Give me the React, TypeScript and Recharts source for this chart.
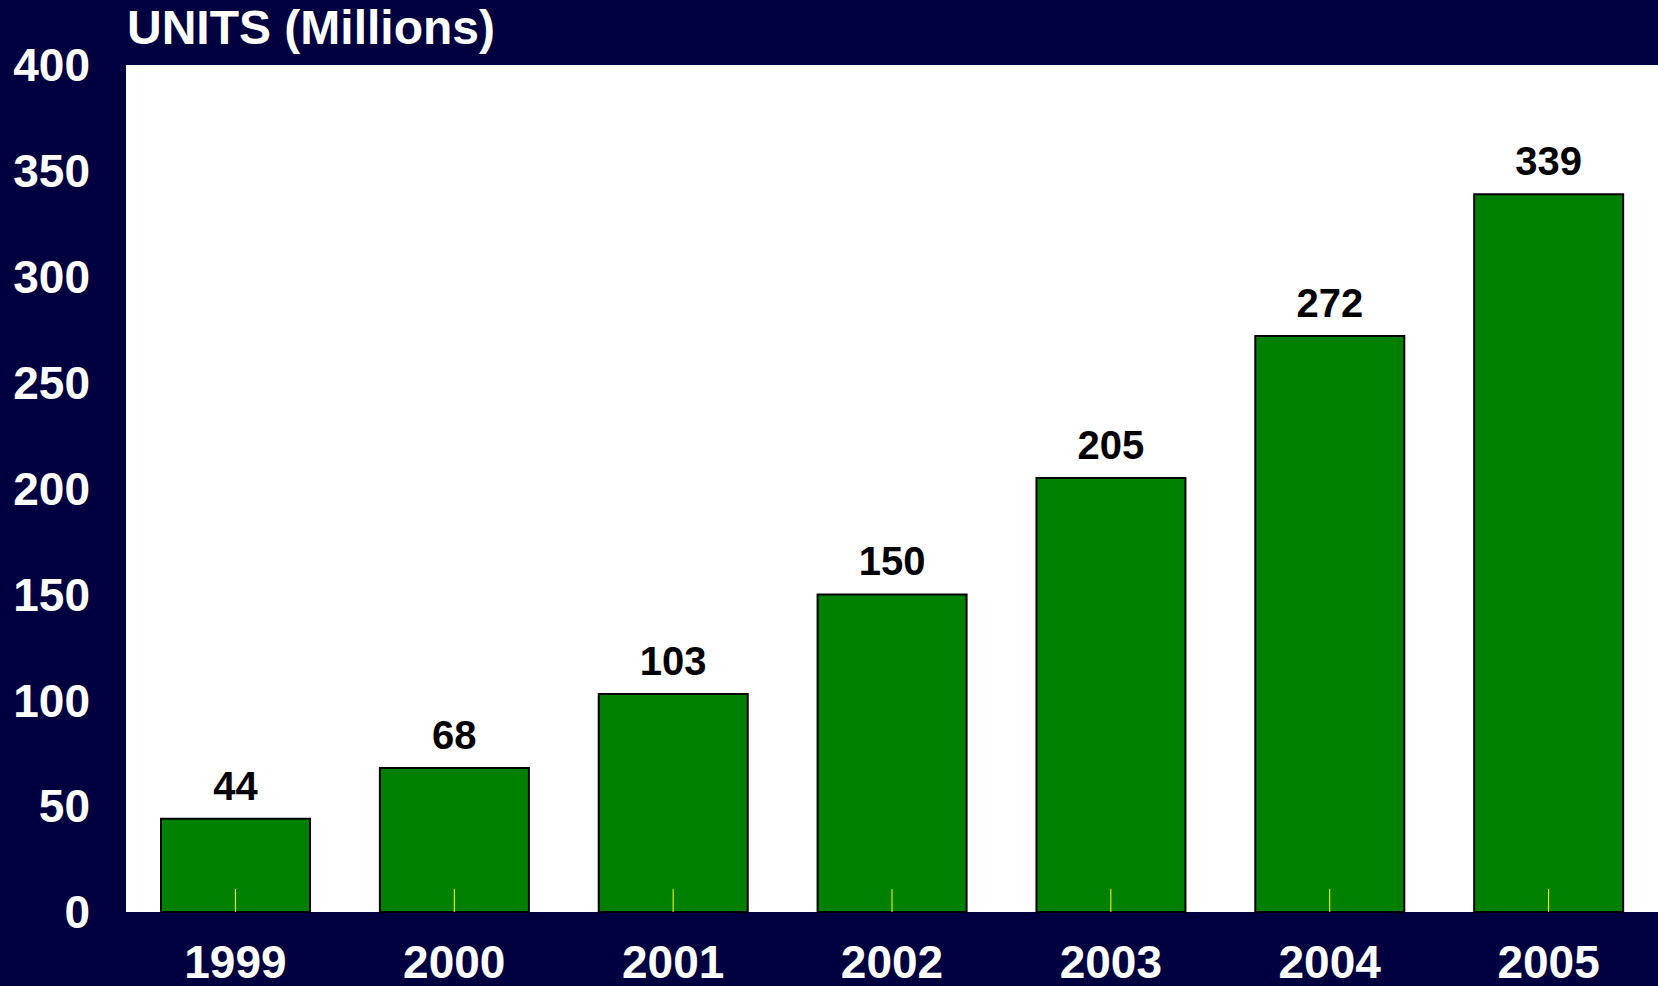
import React from "react";
import { BarChart, Bar, XAxis, YAxis, CartesianGrid, LabelList } from "recharts";

const years = ["1999", "2000", "2001", "2002", "2003", "2004", "2005"];
const units = [44, 68, 103, 150, 205, 272, 339];
const yTicks = [0, 50, 100, 150, 200, 250, 300, 350, 400];
const titleText = "UNITS (Millions)";

const data = years.map((y, i) => ({ year: y, units: units[i] }));

const NAVY = "#000040";
const FONT = "'Liberation Sans', Arial, sans-serif";

export default function App() {
  return (
    <div
      style={{
        position: "fixed",
        left: 0,
        top: 0,
        width: 1658,
        height: 986,
        background: NAVY,
        fontFamily: FONT,
      }}
    >
      <svg
        width={1658}
        height={986}
        style={{ position: "absolute", left: 0, top: 0 }}
      >
        <text
          x={127}
          y={44}
          fill="#ffffff"
          fontFamily={FONT}
          fontWeight="bold"
          fontSize={48}
        >
          {titleText}
        </text>
      </svg>
      <div style={{ position: "absolute", left: 0, top: 0 }}>
        <BarChart
          width={1658}
          height={986}
          data={data}
          margin={{ top: 65, right: 0, bottom: 0, left: 0 }}
          barCategoryGap="16%"
        >
          <CartesianGrid
            horizontal={false}
            vertical={false}
            fill="#ffffff"
            fillOpacity={1}
          />
          <YAxis
            type="number"
            domain={[0, 400]}
            ticks={yTicks}
            width={126}
            axisLine={false}
            tickLine={false}
            tickSize={0}
            tickMargin={36}
            interval={0}
            tick={{
              fill: "#ffffff",
              fontSize: 46,
              fontWeight: "bold",
              fontFamily: FONT,
            }}
          />
          <Bar
            dataKey="units"
            fill="#008000"
            stroke="#000000"
            strokeWidth={2}
            isAnimationActive={false}
          >
            <LabelList
              dataKey="units"
              position="top"
              offset={19}
              fill="#000000"
              fontSize={40}
              fontWeight="bold"
              fontFamily={FONT}
            />
          </Bar>
          <XAxis
            dataKey="year"
            height={74}
            axisLine={false}
            tickSize={-23}
            tickMargin={56}
            tickLine={{ stroke: "#ffff00", strokeWidth: 1 }}
            interval={0}
            tick={{
              fill: "#ffffff",
              fontSize: 46,
              fontWeight: "bold",
              fontFamily: FONT,
            }}
          />
        </BarChart>
      </div>
    </div>
  );
}
